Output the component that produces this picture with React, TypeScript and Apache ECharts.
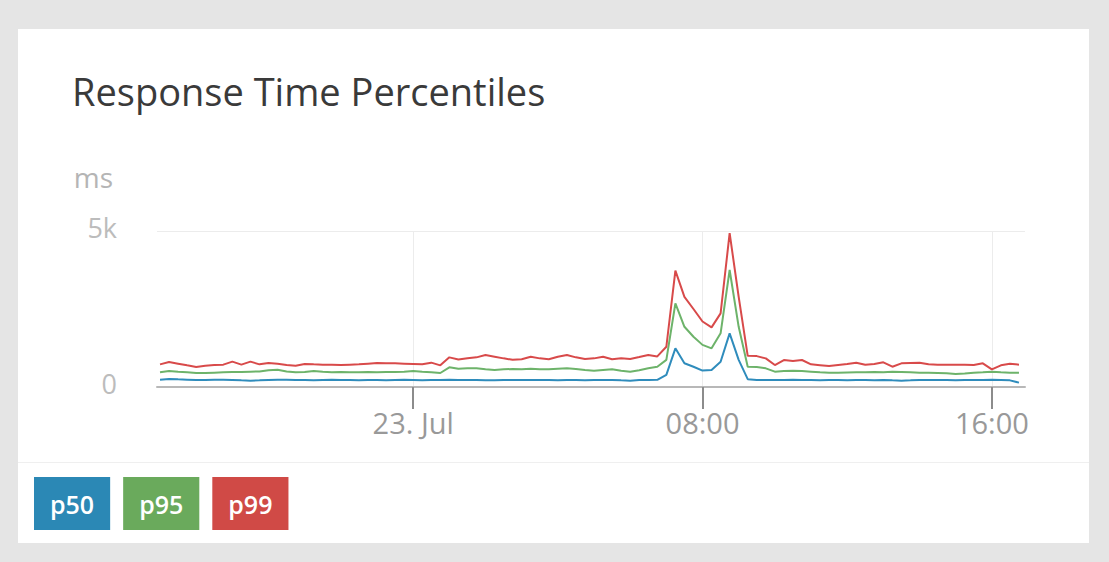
import React, { useEffect, useRef } from "react";
import * as echarts from "echarts";

const TITLE = "Response Time Percentiles";
const Y_UNIT = "ms";
const SERIES_NAMES = ["p50", "p95", "p99"];
const LINE_COLORS = ["#2f8cbc", "#6db36a", "#d84a4a"];
const LEGEND_COLORS = ["#2b88b5", "#6aaa5c", "#d04a46"];
const MONTHS = ["Jan", "Feb", "Mar", "Apr", "May", "Jun", "Jul", "Aug", "Sep", "Oct", "Nov", "Dec"];

// sampling: every 15 minutes from 22 Jul 17:00
const START_TIME = new Date(2019, 6, 22, 17, 0).getTime();
const STEP_MS = 15 * 60 * 1000;
const AXIS_MIN = new Date(2019, 6, 22, 16, 55).getTime();
const AXIS_MAX = new Date(2019, 6, 23, 16, 55).getTime();
const TICK_TIMES = [
  new Date(2019, 6, 23, 0, 0).getTime(),
  new Date(2019, 6, 23, 8, 0).getTime(),
  new Date(2019, 6, 23, 16, 0).getTime(),
];
const Y_MAX = 5000;

const p50 = [
  235, 256, 245, 235, 224, 224, 235, 235, 224, 213, 203, 213, 224, 235, 235, 224,
  224, 213, 224, 235, 224, 224, 213, 224, 224, 213, 224, 235, 224, 213, 224, 224,
  235, 224, 224, 224, 213, 213, 224, 224, 224, 224, 224, 224, 213, 224, 224, 213,
  224, 224, 224, 213, 203, 224, 224, 230, 390, 1240, 760, 650, 525, 545, 810, 1720,
  870, 250, 224, 224, 224, 224, 235, 224, 224, 213, 224, 224, 213, 224, 224, 213,
  224, 213, 203, 213, 224, 224, 224, 224, 213, 224, 224, 224, 235, 224, 213, 140,
];

const p95 = [
  470, 513, 490, 470, 449, 449, 460, 470, 480, 480, 490, 500, 534, 555, 500, 470,
  480, 513, 490, 470, 480, 470, 470, 480, 470, 480, 480, 490, 513, 490, 470, 449,
  630, 587, 600, 598, 566, 545, 566, 577, 566, 587, 566, 566, 587, 598, 577, 545,
  523, 545, 566, 523, 491, 540, 600, 650, 870, 2680, 1930, 1610, 1350, 1240, 1720, 3750,
  1930, 651, 640, 598, 491, 510, 520, 510, 491, 470, 459, 459, 465, 470, 470, 480,
  470, 491, 480, 470, 459, 459, 450, 440, 416, 430, 459, 470, 491, 470, 459, 459,
];

const p99 = [
  726, 800, 748, 694, 641, 683, 705, 716, 812, 716, 812, 726, 769, 748, 705, 683,
  737, 726, 716, 716, 705, 716, 726, 748, 769, 758, 758, 748, 737, 726, 780, 694,
  950, 880, 920, 950, 1025, 972, 918, 870, 890, 972, 918, 890, 972, 1025, 950, 900,
  918, 972, 890, 918, 900, 960, 1025, 980, 1290, 3730, 2890, 2500, 2100, 1910, 2360, 4930,
  2890, 1000, 990, 918, 705, 865, 833, 865, 726, 700, 673, 705, 737, 780, 716, 737,
  790, 651, 758, 769, 780, 726, 716, 716, 716, 716, 705, 758, 566, 694, 748, 716,
];

const SERIES_VALUES = [p50, p95, p99];

const pad2 = (n: number) => (n < 10 ? "0" + n : "" + n);

function formatTime(v: number): string {
  const d = new Date(v);
  if (d.getHours() === 0 && d.getMinutes() === 0) {
    return `${d.getDate()}. ${MONTHS[d.getMonth()]}`;
  }
  return `${pad2(d.getHours())}:${pad2(d.getMinutes())}`;
}

export default function App() {
  const ref = useRef<HTMLDivElement>(null);

  useEffect(() => {
    document.body.style.margin = "0";
    if (!ref.current) return;
    const chart = echarts.init(ref.current, undefined, { renderer: "svg" });
    const font = "'Open Sans', 'Noto Sans', sans-serif";

    const series = SERIES_NAMES.map((name, si) => ({
      name,
      type: "line",
      showSymbol: false,
      symbol: "none",
      data: SERIES_VALUES[si].map((v, i) => [START_TIME + i * STEP_MS, v]),
      lineStyle: { width: 2, color: LINE_COLORS[si] },
      itemStyle: { color: LINE_COLORS[si] },
      z: 3 + si,
    }));

    chart.setOption({
      animation: false,
      textStyle: { fontFamily: font },
      title: {
        text: TITLE,
        left: 72,
        top: 72,
        padding: 0,
        textStyle: { fontFamily: font, fontSize: 38, fontWeight: "normal", color: "#3a3a3a" },
      },
      tooltip: { trigger: "axis" },
      legend: {
        left: 29,
        top: 477,
        padding: 0,
        itemGap: 8,
        itemWidth: 0,
        itemHeight: 0,
        icon: "rect",
        data: SERIES_NAMES.map((name, i) => ({
          name,
          textStyle: {
            backgroundColor: LEGEND_COLORS[i],
            color: "#ffffff",
            padding: [14, 16],
            fontSize: 25,
            lineHeight: 25,
            fontWeight: 600,
            fontFamily: font,
          },
        })),
      },
      grid: { left: 157, right: 84, top: 231, bottom: 175, containLabel: false },
      xAxis: {
        type: "value",
        min: AXIS_MIN,
        max: AXIS_MAX,
        axisLine: { show: true, lineStyle: { color: "#b8b8b8", width: 2 } },
        axisTick: {
          show: true,
          customValues: TICK_TIMES,
          length: 22,
          lineStyle: { color: "#8c8c8c", width: 2 },
        },
        axisLabel: {
          customValues: TICK_TIMES,
          formatter: (v: number) => formatTime(v),
          fontSize: 29,
          color: "#999999",
          margin: 21,
          fontFamily: font,
        },
        splitLine: { show: true, customValues: TICK_TIMES, lineStyle: { color: "#ececec", width: 1 } },
      },
      yAxis: {
        type: "value",
        min: 0,
        max: Y_MAX,
        interval: Y_MAX,
        name: Y_UNIT,
        nameLocation: "end",
        nameGap: 54,
        nameTextStyle: {
          fontSize: 28,
          color: "#b5b5b5",
          align: "right",
          verticalAlign: "middle",
          padding: [0, 44, 0, 0],
          fontFamily: font,
        },
        axisLine: { show: false },
        axisTick: { show: false },
        axisLabel: {
          formatter: (v: number) => (v >= 1000 ? v / 1000 + "k" : String(v)),
          fontSize: 27,
          color: "#bcbcbc",
          margin: 40,
          verticalAlign: "bottom",
          lineHeight: 8,
          fontFamily: font,
        },
        splitLine: { show: true, lineStyle: { color: "#ececec", width: 1 } },
      },
      series,
    });

    return () => chart.dispose();
  }, []);

  return (
    <div
      style={{
        position: "fixed",
        left: 0,
        top: 0,
        width: 1109,
        height: 562,
        background: "#e5e5e5",
        overflow: "hidden",
      }}
    >
      <div
        style={{
          position: "absolute",
          left: 18,
          top: 29,
          width: 1071,
          height: 514,
          background: "#ffffff",
        }}
      />
      <div
        style={{
          position: "absolute",
          left: 18,
          top: 462,
          width: 1071,
          height: 1,
          background: "#efefef",
        }}
      />
      <div ref={ref} style={{ position: "absolute", left: 0, top: 0, width: 1109, height: 562 }} />
    </div>
  );
}
